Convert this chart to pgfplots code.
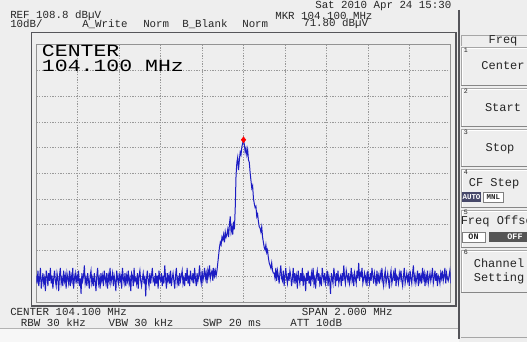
\documentclass[border=0pt]{standalone}
\usepackage{fontspec}
\usepackage{graphicx}
\usepackage{pgfplots}
\usepackage{pgfplotstable}
\pgfplotsset{compat=1.18}
\newfontfamily\mono{Liberation Mono}
\newfontfamily\bigmono{Liberation Mono}
\definecolor{bg}{RGB}{238,238,238}
\definecolor{trace}{RGB}{28,28,195}
\definecolor{frame}{RGB}{85,85,90}
\definecolor{keydark}{RGB}{70,72,105}
\definecolor{offdark}{RGB}{85,85,85}

\pgfplotstableread[row sep=\\]{
y\\
19\\16\\21\\15\\18\\22\\14\\17\\20\\16\\
18\\13\\21\\19\\15\\20\\17\\22\\16\\19\\
14\\18\\21\\17\\15\\20\\18\\13\\19\\22\\
16\\18\\15\\21\\17\\19\\14\\20\\18\\16\\
21\\15\\19\\17\\22\\14\\18\\20\\16\\19\\
17\\21\\15\\18\\12\\20\\17\\19\\23\\16\\
18\\15\\20\\17\\14\\19\\21\\16\\18\\15\\
20\\17\\13\\19\\22\\16\\18\\14\\20\\17\\
19\\15\\21\\18\\16\\20\\14\\19\\17\\22\\
16\\18\\20\\15\\19\\17\\13\\21\\18\\16\\
20\\17\\19\\14\\22\\18\\16\\20\\15\\19\\
17\\21\\16\\18\\13\\20\\19\\15\\22\\17\\
18\\16\\20\\14\\19\\21\\17\\15\\18\\20\\
16\\19\\11\\18\\21\\17\\15\\20\\16\\19\\
22\\17\\18\\15\\20\\16\\19\\14\\21\\18\\
17\\20\\15\\19\\16\\23\\18\\14\\20\\17\\
19\\16\\21\\15\\18\\20\\17\\14\\19\\22\\
16\\18\\15\\20\\17\\19\\21\\16\\18\\15\\
20\\17\\22\\16\\19\\15\\21\\18\\17\\20\\
16\\22\\18\\15\\20\\17\\19\\23\\18\\16\\
21\\17\\19\\22\\18\\20\\16\\21\\19\\23\\
18\\20\\21\\17\\22\\19\\21\\19\\
21\\24\\27\\30\\32\\31\\34\\33\\35\\32\\
36\\34\\35\\37\\34\\39\\42\\36\\38\\35\\
40\\37\\45\\58\\63\\65\\60\\64\\67\\66\\
69\\70.5\\71.8\\70\\67\\68.5\\66\\68\\64\\63\\
59\\56\\53\\54\\49\\47\\45.5\\46\\42\\43\\
40\\38\\37.5\\36\\38\\34\\32\\30\\29\\31\\
28\\29\\26\\24\\23\\22\\24\\21\\20\\
20\\18\\22\\17\\21\\19\\16\\20\\23\\18\\
17\\21\\15\\19\\22\\18\\16\\20\\17\\21\\
19\\15\\18\\22\\16\\20\\17\\19\\14\\21\\
18\\16\\20\\17\\22\\15\\19\\18\\13\\20\\
17\\21\\16\\19\\15\\20\\18\\22\\16\\18\\
14\\19\\21\\17\\20\\16\\18\\15\\22\\19\\
17\\20\\16\\18\\21\\15\\19\\17\\12\\20\\
18\\16\\22\\19\\15\\20\\17\\21\\16\\18\\
19\\15\\20\\17\\23\\18\\16\\21\\19\\17\\
20\\16\\18\\22\\17\\19\\15\\20\\18\\16\\
21\\18\\24\\17\\20\\19\\22\\16\\18\\20\\
17\\19\\15\\21\\18\\16\\20\\17\\22\\19\\
16\\20\\18\\15\\21\\17\\19\\16\\20\\18\\
22\\17\\15\\19\\21\\16\\18\\20\\17\\14\\
19\\21\\16\\18\\20\\17\\22\\15\\19\\18\\
16\\20\\18\\21\\17\\15\\19\\22\\16\\18\\
20\\17\\19\\15\\21\\18\\16\\20\\23\\17\\
19\\16\\18\\21\\15\\20\\17\\19\\16\\22\\
18\\20\\15\\19\\17\\21\\16\\18\\20\\17\\
19\\22\\16\\18\\21\\17\\20\\15\\19\\18\\
16\\20\\18\\21\\17\\19\\22\\16\\20\\18\\
17\\19\\21\\16\\
}\spectrum

\newcommand\btn[2]{%
  \fill[bg] (461,#1) rectangle (530,#2);
  \draw[gray!70, line width=0.5pt] (461,#2) -- (461,#1) -- (530,#1);
  \draw[white, line width=0.7pt] (462,#2+1) -- (462,#1-1) -- (530,#1-1);
  \draw[gray!95, line width=1pt] (461,#2+0.5) -- (530,#2+0.5);
}

\begin{document}
\begin{tikzpicture}[x=0.75pt,y=0.75pt,
  t/.style={anchor=west,inner sep=0pt,font=\mono\fontsize{8.1}{8.5}\selectfont,text=black!85},
  p/.style={inner sep=0pt,font=\mono\fontsize{9}{10}\selectfont,text=black!85},
  n/.style={anchor=west,inner sep=0pt,font=\mono\fontsize{5}{5}\selectfont,text=black!85}]
\useasboundingbox (0,0) rectangle (527,342);
\clip (0,0) rectangle (527,342);
\fill[bg] (0,0) rectangle (527,342);
% bottom strip
\fill[black!3] (0,0) rectangle (459,14);
\draw[gray!60, line width=0.5pt] (0,14) -- (459,14);
% outer frame
\draw[frame, line width=0.8pt] (31.7,309.3) rectangle (456,36);
% separator
\draw[frame, line width=0.8pt] (459,332) -- (459,3);

\begin{axis}[
  at={(27.225pt,30pt)}, anchor=south west,
  scale only axis, width=310.8pt, height=193.1pt,
  xmin=0, xmax=500, ymin=8.8, ymax=108.8,
  xtick={50,100,...,450},
  ytick={18.8,28.8,38.8,48.8,58.8,68.8,78.8,88.8,98.8},
  xticklabels={}, yticklabels={}, major tick length=0pt,
  grid=major,
  grid style={gray!80, dash pattern=on 1pt off 1pt, line width=0.4pt},
  axis line style={gray!85, line width=0.6pt},
  axis background/.style={fill=bg},
]
\addplot[trace, line width=0.75pt, mark=none] table[x expr=\coordindex, y=y] {\spectrum};
\addplot[only marks, mark=diamond*, mark size=2.2pt, red, mark options={fill=red}] coordinates {(250,71.8)};
\end{axis}

% large center label
\node[anchor=west,inner sep=0pt] at (41.7,290.8) {\scalebox{1.26}[1]{\bigmono\fontsize{12.8}{12.8}\selectfont CENTER}};
\node[anchor=west,inner sep=0pt] at (41.7,275.8) {\scalebox{1.26}[1]{\bigmono\fontsize{12.8}{12.8}\selectfont 104.100 MHz}};

% header texts
\node[t] at (315,336) {Sat 2010 Apr 24 15:30};
\node[t] at (10,326.5) {REF 108.8 dBµV};
\node[t] at (10,318) {10dB/};
\node[t] at (82,318) {A\_Write};
\node[t] at (143,318) {Norm};
\node[t] at (182,318) {B\_Blank};
\node[t] at (242,318) {Norm};
\node[t] at (275,326.5) {MKR 104.100 MHz};
\node[t] at (303,318) {71.80 dBµV};
% footer texts
\node[t] at (10,29.8) {CENTER 104.100 MHz};
\node[t] at (301.7,29.8) {SPAN 2.000 MHz};
\node[t] at (20.7,19.1) {RBW 30 kHz};
\node[t] at (108.3,19.1) {VBW 30 kHz};
\node[t] at (202.7,19.1) {SWP 20 ms};
\node[t] at (290,19.1) {ATT 10dB};

% right panel
\draw[gray!70, line width=0.5pt] (461,307) -- (530,307);
\draw[gray!70, line width=0.5pt] (461,307) -- (461,296);
\node[p] at (503,301) {Freq};
\btn{295}{256}
\btn{254}{215}
\btn{213}{175}
\btn{173}{134}
\btn{132}{94}
\btn{92}{49}
\draw[gray!70, line width=0.5pt] (461,5) -- (530,5);
\node[n] at (463.5,291.5) {1};
\node[p] at (503,276) {Center};
\node[n] at (463.5,251) {2};
\node[p] at (503,234) {Start};
\node[n] at (463.5,210) {3};
\node[p] at (500,193) {Stop};
\node[n] at (463.5,170) {4};
\node[p] at (494,158) {CF Step};
\fill[keydark] (462,150) rectangle (481,140);
\node[inner sep=0pt,font=\mono\bfseries\fontsize{5.6}{6}\selectfont,text=white] at (471.5,145) {AUTO};
\fill[white] (483.5,150) rectangle (503,140);
\draw[gray, line width=0.5pt] (483.5,150) rectangle (503,140);
\node[inner sep=0pt,font=\mono\bfseries\fontsize{5.6}{6}\selectfont,text=black!85] at (493.3,145) {MNL};
\node[n] at (463.5,130) {5};
\node[p,anchor=west] at (460.5,121) {Freq Offse};
\fill[white] (462,110) rectangle (485,100);
\draw[gray, line width=0.5pt] (462,110) rectangle (485,100);
\node[inner sep=0pt,font=\mono\bfseries\fontsize{6.3}{7}\selectfont,text=black!85] at (473.5,105) {ON};
\fill[offdark] (489,110) rectangle (530,100);
\node[inner sep=0pt,font=\mono\bfseries\fontsize{6.3}{7}\selectfont,text=white] at (515,105) {OFF};
\node[n] at (463.5,89.5) {6};
\node[p] at (499,79) {Channel};
\node[p] at (499,64) {Setting};
\end{tikzpicture}
\end{document}
